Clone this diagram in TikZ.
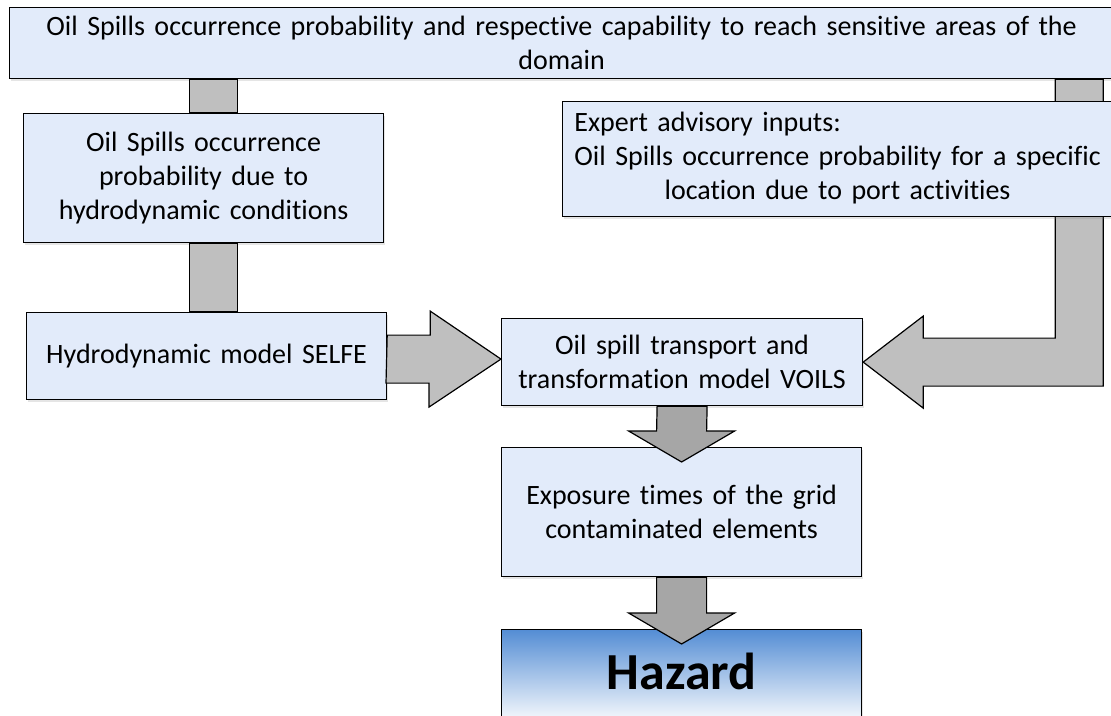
\documentclass[tikz,border=0pt]{standalone}
\usepackage{fontspec}
\setmainfont{Carlito}[WordSpace=1.5, Ligatures=NoCommon]
\usetikzlibrary{calc,shadows}
\definecolor{boxblue}{RGB}{226,235,250}
\definecolor{barfill}{RGB}{191,191,191}
\definecolor{downfill}{RGB}{166,166,166}
\definecolor{hazblue}{RGB}{84,141,212}

% block arrow from the bottom of #1 down into the top of #2
\newcommand\downblock[2]{%
  \filldraw[downarrow] ($(#1.south)+(-25,0)$) -- ($(#2.north)+(-25,-16)$) -- ++(-28,0)
    -- ($(#2.north)+(0,15)$) -- ($(#2.north)+(53,-16)$) -- ++(-28,0)
    -- ($(#1.south)+(25,0)$) -- cycle;}

\begin{document}
\begin{tikzpicture}[x=1pt,y=-1pt,
    box/.style={draw, line width=1.2pt, fill=boxblue, align=center, inner sep=3pt,
      font=\fontsize{28}{34}\selectfont, anchor=north west,
      drop shadow={shadow xshift=1.5pt,shadow yshift=-2pt,opacity=.2}},
    shaft/.style={draw, line width=1.2pt, fill=barfill},
    downarrow/.style={shaft, fill=downfill}]
    \clip (0,0) rectangle (1111,715);
    \fill[white] (0,0) rectangle (1111,715);

    % boxes
    \node[box, minimum width=1104pt, minimum height=71pt] (top) at (9,7)
        {Oil Spills occurrence probability and respective capability to reach sensitive areas of the\\ domain};
    \node[box, minimum width=360pt, minimum height=129pt] (prob) at (23,113)
        {Oil Spills occurrence\\ probability due to\\ hydrodynamic conditions};
    \node[box, minimum width=360pt, minimum height=87pt] (selfe) at (26,312)
        {Hydrodynamic model SELFE};
    \node[box, minimum width=361pt, minimum height=87pt] (voils) at (501,318)
        {Oil spill transport and\\ transformation model VOILS};
    \node[box, minimum width=360pt, minimum height=129pt] (expo) at (501,447)
        {Exposure times of the grid\\ contaminated elements};
    \node[box, top color=hazblue, bottom color=white, minimum width=360pt,
        inner ysep=0pt, text height=60pt, text depth=36pt,
        font=\bfseries\fontsize{52}{60}\selectfont] (hazard) at (501,629) {Hazard};

    % left column bars
    \coordinate (lx) at ($(prob.north)+(10,0)$);
    \filldraw[shaft] ($(lx |- top.south)+(-24,0)$) rectangle ($(lx)+(24,0)$);
    \filldraw[shaft] ($(lx |- prob.south)+(-24,0)$) rectangle ($(lx |- selfe.north)+(24,0)$);

    % SELFE into VOILS
    \coordinate (m1) at ($(selfe.east)!.5!(voils.west)$);
    \filldraw[shaft] ($(selfe.east |- m1)+(0,-24)$) -- ++(43,0) -- ++(0,-24) -- (voils.west |- m1)
        -- ++(-72,48) -- ++(0,-24) -- ++(-43,0) -- cycle;

    % right side, bent round into VOILS
    \coordinate (bend) at ($(voils.east -| top.east)+(-35,0)$);
    \filldraw[shaft] ($(bend |- top.south)+(-24,0)$) -- ($(bend)+(-24,-24)$)
        -- ($(voils.east)+(60,-24)$) -- ++(0,-22) -- (voils.east) -- ++(60,46) -- ++(0,-22)
        -- ($(bend)+(24,24)$) -- ($(bend |- top.south)+(24,0)$) -- cycle;

    \node[box, minimum width=550pt, minimum height=115pt] (expert) at (562,101)
        {\begin{tabular}{@{}c@{}}
         \multicolumn{1}{@{}l@{}}{Expert advisory inputs:}\\
         Oil Spills occurrence probability for a specific\\
         location due to port activities
         \end{tabular}};

    % down the middle
    \downblock{voils}{expo}
    \downblock{expo}{hazard}
\end{tikzpicture}
\end{document}
